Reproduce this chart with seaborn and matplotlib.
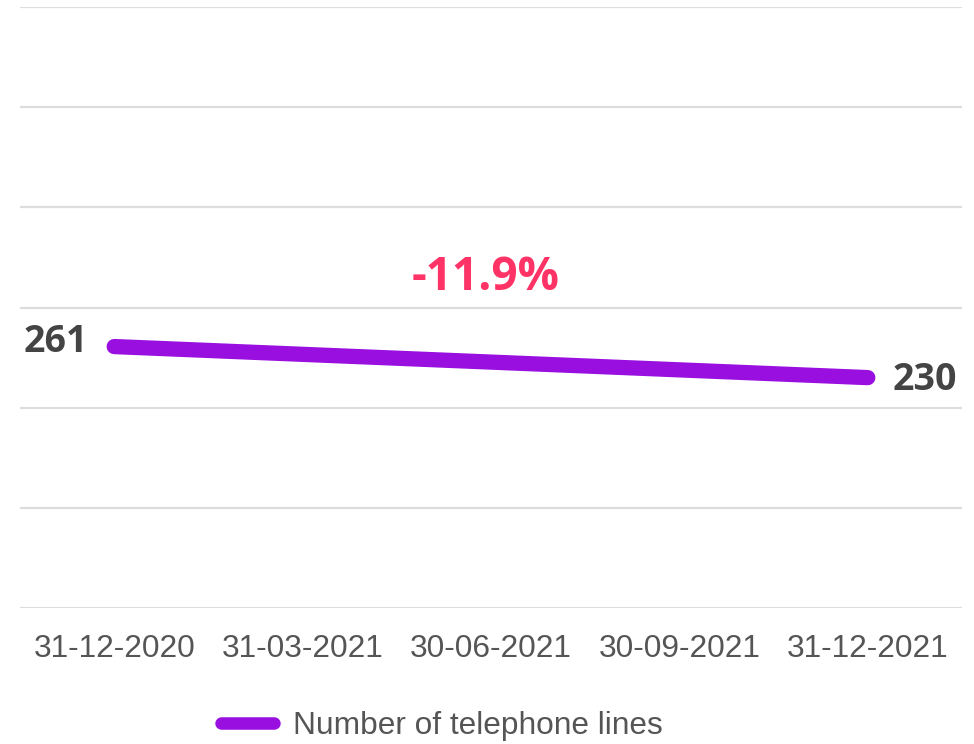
import matplotlib
matplotlib.use("Agg")
import matplotlib.pyplot as plt
import seaborn as sns
import pandas as pd
import numpy as np

dates = ["31-12-2020", "31-03-2021", "30-06-2021", "30-09-2021", "31-12-2021"]
lines_count = [261, None, None, None, 230]
series_name = "Number of telephone lines"

sns.set_theme(style="white")
plt.rcParams['font.family'] = ['Liberation Sans', 'DejaVu Sans']

df = pd.DataFrame({"pos": np.arange(len(dates)), "date": dates,
                   "value": pd.to_numeric(pd.Series(lines_count), errors="coerce")})
df["series"] = series_name
df_plot = df.dropna(subset=["value"])

fig = plt.figure(figsize=(9.74, 7.44), dpi=100)
ax = fig.add_axes([20/974, 1 - 608/744, 942/974, 601/744])

purple = "#980fe0"
sns.lineplot(data=df_plot, x="pos", y="value", hue="series", palette=[purple],
             linewidth=11, ax=ax, solid_capstyle="round", legend=True)
for ln in ax.get_lines():
    ln.set_solid_capstyle("round")

ax.set_xlim(-0.5, len(dates) - 0.5)
ax.set_ylim(0, 600)
ax.set_yticks(np.arange(0, 601, 100))
ax.set_yticklabels([])
ax.yaxis.grid(True, color="#dddddd", linewidth=1.6)
ax.set_axisbelow(True)
ax.tick_params(axis="y", length=0)
ax.set_xticks(df["pos"])
ax.set_xticklabels(dates, fontsize=22.8, color="#555555")
ax.tick_params(axis="x", length=0, pad=19)
ax.set_xlabel("")
ax.set_ylabel("")
for s in ax.spines.values():
    s.set_visible(False)

bold = dict(family=["Open Sans", "DejaVu Sans"], fontweight="bold", fontsize=27, color="#444444")
first = df_plot.iloc[0]
last = df_plot.iloc[-1]
ax.annotate(f"{int(first['value'])}", xy=(first["pos"], first["value"]), xytext=(-19, 3),
            textcoords="offset points", ha="right", va="center", **bold)
ax.annotate(f"{int(last['value'])}", xy=(last["pos"], last["value"]), xytext=(18, -2),
            textcoords="offset points", ha="left", va="center", **bold)

pct = (last["value"] - first["value"]) / first["value"] * 100
ax.text((first["pos"] + last["pos"]) / 2 - 0.03, 330, f"{pct:.1f}%", ha="center", va="center",
        family=["Open Sans", "DejaVu Sans"], fontweight="bold", fontsize=33, color="#ff3366")

leg = ax.legend(loc="center", bbox_to_anchor=(442/974, 1 - 726/744), bbox_transform=fig.transFigure,
                frameon=False, fontsize=22.8, handlelength=1.65, handletextpad=0.6)
for t in leg.get_texts():
    t.set_color("#555555")
for h in leg.get_lines():
    h.set_linewidth(9)
    h.set_solid_capstyle("round")

fig.savefig("out.png", dpi=100)
